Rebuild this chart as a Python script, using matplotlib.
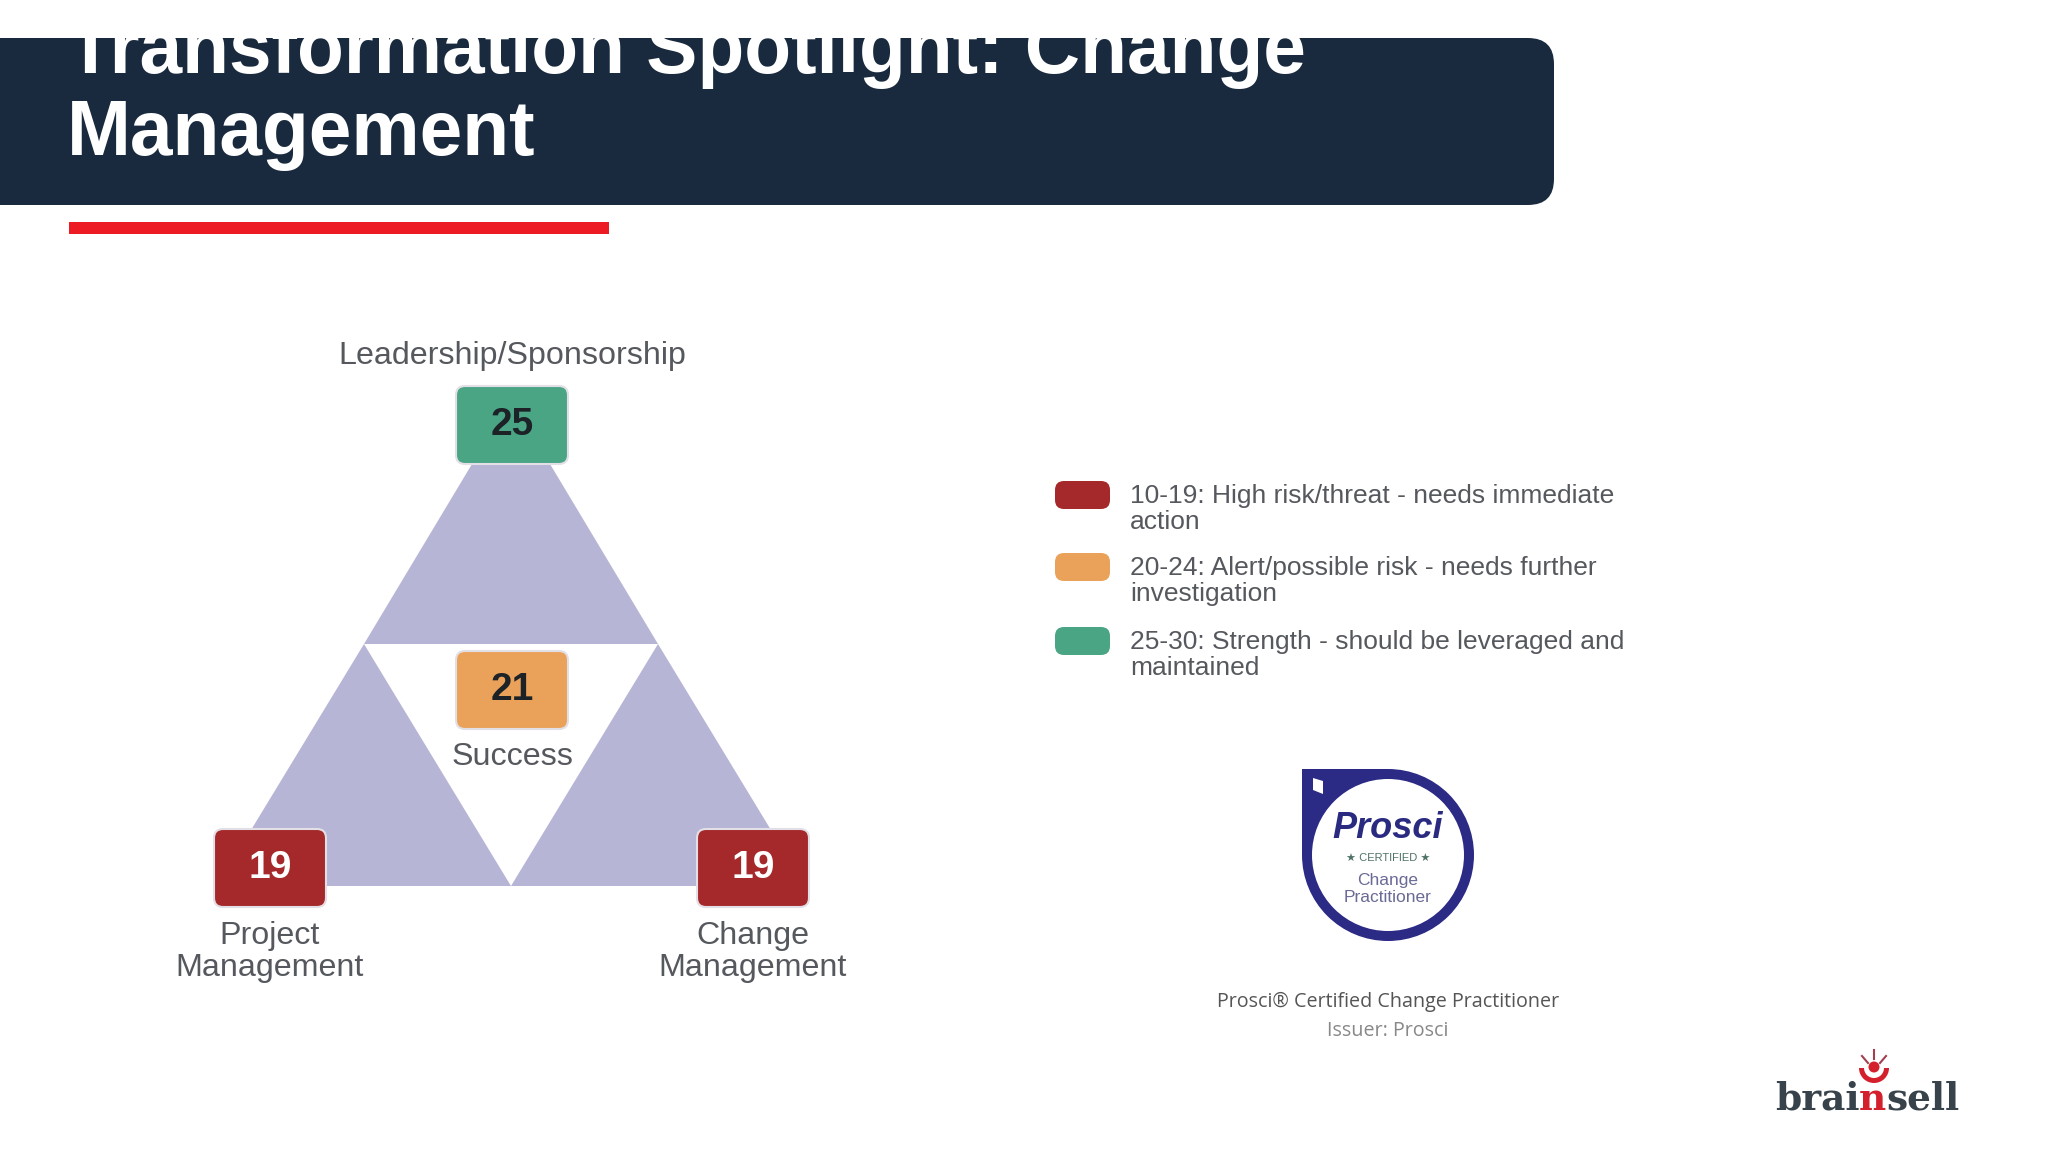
import matplotlib
matplotlib.use("Agg")
import matplotlib.pyplot as plt
from matplotlib.patches import FancyBboxPatch, Polygon, Circle, Rectangle, Wedge

plt.rcParams['font.family'] = ['Liberation Sans', 'DejaVu Sans']

# values
title_lines = ["Transformation Spotlight: Change", "Management"]
scores = [25, 21, 19, 19]
score_names = ["Leadership/Sponsorship", "Success", "Project\nManagement", "Change\nManagement"]
legend_ranges = [(10, 19), (20, 24), (25, 30)]
legend_text = [
    ["10-19: High risk/threat - needs immediate", "action"],
    ["20-24: Alert/possible risk - needs further", "investigation"],
    ["25-30: Strength - should be leveraged and", "maintained"],
]
range_colors = ["#a5292a", "#eaa25a", "#4aa585"]

NAVY = "#1a2a3e"
LAVENDER = "#b7b5d6"
GREY = "#55585d"
BADGE = "#2b2a85"


def rbox(ax, x0, y0, x1, y1, r, **kw):
    p = FancyBboxPatch((x0 + r, y0 + r), x1 - x0 - 2 * r, y1 - y0 - 2 * r,
                       boxstyle=f"round,pad={r},rounding_size={r}", **kw)
    ax.add_patch(p)
    return p


def score_color(v):
    for (lo, hi), c in zip(legend_ranges, range_colors):
        if lo <= v <= hi:
            return c
    return "#888888"


fig = plt.figure(figsize=(20.48, 11.52), dpi=100, facecolor="white")
ax = fig.add_axes([0, 0, 1, 1])
ax.set_xlim(0, 2048)
ax.set_ylim(1152, 0)
ax.axis("off")

# header
banner = rbox(ax, -60, 38, 1554, 205, 26, fc=NAVY, ec="none")
for line, base in zip(title_lines, [73, 155]):
    t = ax.text(67, base, line, color="white", fontsize=55.2, fontweight="bold",
                ha="left", va="baseline")
    t.set_clip_path(banner)
ax.add_patch(Rectangle((69, 222), 540, 12, fc="#ed1c24", ec="none"))

# triangle made of three smaller ones
cx, top, mid, bottom, half = 511, 399, 644, 886, 147
ax.add_patch(Polygon([(cx, top), (cx - half, mid), (cx + half, mid)], fc=LAVENDER, ec="none"))
ax.add_patch(Polygon([(cx - half, mid), (cx - 2 * half, bottom), (cx, bottom)], fc=LAVENDER, ec="none"))
ax.add_patch(Polygon([(cx + half, mid), (cx, bottom), (cx + 2 * half, bottom)], fc=LAVENDER, ec="none"))

# score boxes
box_x = [512, 512, 270, 753]
box_y = [425, 690, 868, 868]
for v, x, y in zip(scores, box_x, box_y):
    rbox(ax, x - 56, y - 39, x + 56, y + 39, 9, fc=score_color(v), ec="#e3dfe6", lw=1.5)
    ax.text(x, y, str(v), fontsize=28, fontweight="bold", ha="center", va="center",
            color="white" if v < 20 else "#1c2226")

label_y = [356, 757, 952, 952]
for name, x, y in zip(score_names, box_x, label_y):
    ax.text(x, y, name, fontsize=23.2, color=GREY, ha="center", va="center", linespacing=1.07)

# legend
swatch_y = [495, 567, 641]
for lines, c, y in zip(legend_text, range_colors, swatch_y):
    rbox(ax, 1055, y - 14, 1110, y + 14, 9, fc=c, ec="none")
    ax.text(1130, y + 1, lines[0], fontsize=19, color=GREY, ha="left", va="center")
    ax.text(1130, y + 27, lines[1], fontsize=19, color=GREY, ha="left", va="center")

# badge
bx, by, br = 1388, 855, 86
ax.add_patch(Circle((bx, by), br, fc=BADGE, ec="none"))
ax.add_patch(Rectangle((bx - br, by - br), br, br, fc=BADGE, ec="none"))
ax.add_patch(Circle((bx, by), 76, fc="white", ec="none"))
ax.add_patch(Polygon([(1313, 778), (1323, 781), (1323, 794), (1313, 790)], fc="white", ec="none"))
ax.text(bx, 828, "Prosci", fontsize=26, fontweight="bold", style="italic", color="#2a2a80",
        ha="center", va="center")
ax.text(bx, 858, "★ CERTIFIED ★", fontsize=8, color="#4f7268", ha="center", va="center")
ax.text(bx, 881, "Change", fontsize=12.5, color="#6a6a96", ha="center", va="center")
ax.text(bx, 898, "Practitioner", fontsize=12.5, color="#6a6a96", ha="center", va="center")
ax.text(bx, 1002, "Prosci® Certified Change Practitioner", fontsize=14.2, color="#555555",
        family="Open Sans", ha="center", va="center")
ax.text(bx, 1031, "Issuer: Prosci", fontsize=14.2, color="#888888",
        family="Open Sans", ha="center", va="center")

# logo
for s, x, c in [("brai", 1775, "#37424a"), ("n", 1859, "#d4202c"), ("sell", 1886, "#37424a")]:
    ax.text(x, 1110, s, fontsize=27, fontweight="bold", family="DejaVu Serif", color=c,
            ha="left", va="baseline")
ax.add_patch(Circle((1874, 1067), 5.5, fc="#d4202c", ec="none"))
ax.add_patch(Wedge((1874, 1068), 15, 0, 180, width=5, fc="#d4202c", ec="none"))
ax.plot([1874, 1874], [1050, 1059], color="#a04050", lw=1.5)
ax.plot([1862, 1868], [1056, 1063], color="#a04050", lw=1.5)
ax.plot([1886, 1880], [1056, 1063], color="#a04050", lw=1.5)

fig.savefig("out.png", dpi=100, facecolor="white")
